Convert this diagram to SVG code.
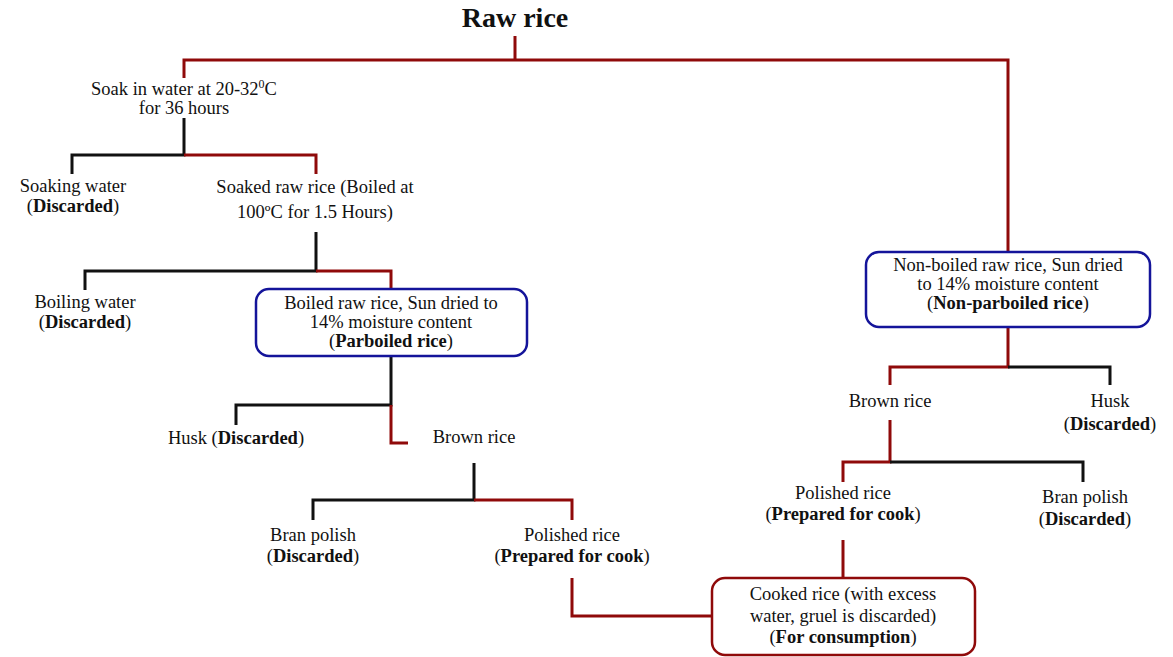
<svg xmlns="http://www.w3.org/2000/svg" width="1173" height="657" viewBox="0 0 1173 657">
<style>
text{font-family:"Liberation Serif","DejaVu Serif",serif;font-size:18.5px;fill:#111;text-anchor:middle}
.b{font-weight:bold}
.r{stroke:#8f0a0a;stroke-width:3;fill:none}
.k{stroke:#111;stroke-width:3;fill:none}
.bx{fill:#fff;stroke:#14149a;stroke-width:2.5}
.bxr{fill:#fff;stroke:#8f0a0a;stroke-width:2.5}
</style>
<rect width="1173" height="657" fill="#fff"/>
<g id="connectors">
<path class="r" d="M515 36V60M184 78V60H1008V252"/>
<path class="k" d="M184 118V155H72V174"/>
<path class="r" d="M184 155H316V174"/>
<path class="k" d="M316 232V271H85V290"/>
<path class="r" d="M316 271H391V289"/>
<path class="k" d="M391 356V405H236V425"/>
<path class="r" d="M391 405V443H408"/>
<path class="k" d="M474 463V500H313V520"/>
<path class="r" d="M474 500H572V520"/>
<path class="r" d="M572 578V616H712"/>
<path class="r" d="M843 540V578"/>
<path class="r" d="M1008 327V367H890V385"/>
<path class="k" d="M1008 367H1110V385"/>
<path class="r" d="M890 420V462H843V482"/>
<path class="k" d="M890 462H1083V482"/>
</g>
<g id="raw-rice"><text x="515" y="27" class="b" style="font-size:28px">Raw rice</text></g>
<g id="soak"><text x="184" y="95">Soak in water at 20-32<tspan dy="-7" style="font-size:12px">0</tspan><tspan dy="7">C</tspan></text><text x="184" y="114">for 36 hours</text></g>
<g id="soaking-water"><text x="73" y="192">Soaking water</text><text x="73" y="212">(<tspan class="b">Discarded</tspan>)</text></g>
<g id="soaked-raw-rice"><text x="315" y="193">Soaked raw rice (Boiled at</text><text x="315" y="218">100ºC for 1.5 Hours)</text></g>
<g id="boiling-water"><text x="85" y="308">Boiling water</text><text x="85" y="328">(<tspan class="b">Discarded</tspan>)</text></g>
<g id="parboiled"><rect class="bx" x="256" y="289" width="271" height="67" rx="13"/><text x="391" y="309">Boiled raw rice, Sun dried to</text><text x="391" y="328">14% moisture content</text><text x="391" y="347">(<tspan class="b">Parboiled rice</tspan>)</text></g>
<g id="husk-left"><text x="236" y="444">Husk (<tspan class="b">Discarded</tspan>)</text></g>
<g id="brown-rice-left"><text x="474" y="443">Brown rice</text></g>
<g id="bran-left"><text x="313" y="541">Bran polish</text><text x="313" y="562">(<tspan class="b">Discarded</tspan>)</text></g>
<g id="polished-left"><text x="572" y="541">Polished rice</text><text x="572" y="562">(<tspan class="b">Prepared for cook</tspan>)</text></g>
<g id="cooked"><rect class="bxr" x="712" y="578" width="263" height="77" rx="13"/><text x="843" y="600">Cooked rice (with excess</text><text x="843" y="622">water, gruel is discarded)</text><text x="843" y="643">(<tspan class="b">For consumption</tspan>)</text></g>
<g id="non-parboiled"><rect class="bx" x="866" y="252" width="284" height="75" rx="13"/><text x="1008" y="271">Non-boiled raw rice, Sun dried</text><text x="1008" y="290">to 14% moisture content</text><text x="1008" y="309">(<tspan class="b">Non-parboiled rice</tspan>)</text></g>
<g id="brown-rice-right"><text x="890" y="407">Brown rice</text></g>
<g id="husk-right"><text x="1110" y="407">Husk</text><text x="1110" y="430">(<tspan class="b">Discarded</tspan>)</text></g>
<g id="polished-right"><text x="843" y="499">Polished rice</text><text x="843" y="520">(<tspan class="b">Prepared for cook</tspan>)</text></g>
<g id="bran-right"><text x="1085" y="503">Bran polish</text><text x="1085" y="525">(<tspan class="b">Discarded</tspan>)</text></g>
</svg>
